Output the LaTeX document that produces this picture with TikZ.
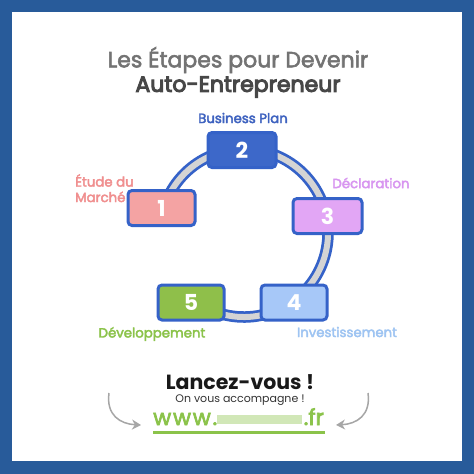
\documentclass[tikz,border=0pt]{standalone}
\usepackage{fontspec}
\setmainfont{Poppins}
\usetikzlibrary{arrows.meta,calc}
\definecolor{frameblue}{HTML}{285B9A}
\definecolor{ringblue}{HTML}{3562C8}
\definecolor{ringgray}{HTML}{D4D4D4}
\definecolor{cOne}{HTML}{F4A3A3}
\definecolor{cTwo}{HTML}{3D68C9}
\definecolor{cThree}{HTML}{E2A6F5}
\definecolor{cFour}{HTML}{A7C8F8}
\definecolor{cFive}{HTML}{8FBF4A}
\definecolor{tOne}{HTML}{F08F8F}
\definecolor{tTwo}{HTML}{3F63C0}
\definecolor{tThree}{HTML}{D896F0}
\definecolor{tFour}{HTML}{9EC4F2}
\definecolor{tFive}{HTML}{8BC34A}
\definecolor{urlgreen}{HTML}{8BC34A}
\newcommand{\medw}{\addfontfeature{FakeBold=3}}
\begin{document}
\begin{tikzpicture}[x=1pt,y=-1pt,
  stepbox/.style={draw=ringblue,line width=3pt,rounded corners=4pt,minimum width=66pt,minimum height=35pt,inner sep=0pt,text=white,font=\fontsize{22}{22}\selectfont\bfseries},
  steplabel/.style={font=\fontsize{13.3}{16}\selectfont\medw,inner sep=0pt},
  curvarrow/.style={draw=black!35,line width=1.5pt,-{Stealth[length=9pt,width=10pt]}}]
\useasboundingbox (0,0) rectangle (474,474);
\fill[frameblue] (0,0) rectangle (474,474);
\fill[white] (12,12) rectangle (462,461);
% title
\node[font=\fontsize{22}{24}\selectfont\addfontfeature{FakeBold=2.5},text=black!55] (t1) at (238,60) {Les Étapes pour Devenir};
\node[font=\fontsize{22}{24}\selectfont\addfontfeature{FakeBold=4.5},text=black!72] (t2) at (238,87) {Auto-Entrepreneur};
% ring
\coordinate (c) at (244,233);
\draw[ringblue,line width=11.5pt] ($(c)+(-155:84)$) arc[start angle=-155,end angle=115,radius=84];
\draw[ringgray,line width=6pt] ($(c)+(-155:84)$) arc[start angle=-155,end angle=115,radius=84];
% boxes
\node[stepbox,fill=cOne,minimum width=67pt] (b1) at (161.5,208) {1};
\node[stepbox,fill=cTwo,minimum width=68pt] (b2) at (242,150) {2};
\node[stepbox,fill=cThree,minimum width=69pt] (b3) at (327.5,216) {3};
\node[stepbox,fill=cFour] (b4) at (294,302.5) {4};
\node[stepbox,fill=cFive] (b5) at (191,302.5) {5};
% labels
\node[steplabel,text=tTwo] (l2) at (243,118) {Business Plan};
\node[steplabel,text=tOne,align=left,anchor=north west,font=\fontsize{13.3}{15.5}\selectfont\medw] (l1) at (75,174) {Étude du\\Marché};
\node[steplabel,text=tThree] (l3) at (371,183) {Déclaration};
\node[steplabel,text=tFour] (l4) at (347,332) {Investissement};
\node[steplabel,text=tFive] (l5) at (152,334) {Développement};
% bottom
\node[font=\fontsize{20.5}{21}\selectfont\bfseries,text=black!90,inner sep=0pt] (lv) at (240,382) {Lancez-vous !};
\node[font=\fontsize{11}{11}\selectfont,text=black!80,inner sep=0pt] (ov) at (240,400) {On vous accompagne !};
\node[font=\fontsize{22}{22}\selectfont\addfontfeature{FakeBold=3,LetterSpace=8},text=urlgreen,anchor=base west,inner sep=0pt] (www) at (153,425) {www.};
\fill[urlgreen!40] (217,415) rectangle (302,424);
\node[font=\fontsize{22}{22}\selectfont\addfontfeature{FakeBold=3},text=urlgreen,anchor=base east,inner sep=0pt] (fr) at (324,425) {.fr};
\coordinate (ulA) at (153,432);
\coordinate (ulB) at (325,432);
\draw[urlgreen,line width=3pt] (ulA) -- (ulB);
\coordinate (la) at (109,393);
\coordinate (lb) at (141,425);
\coordinate (ra) at (368,393);
\coordinate (rb) at (336,425);
\draw[curvarrow] (la) .. controls (106,415) and (120,424) .. (lb);
\draw[curvarrow] (ra) .. controls (371,415) and (357,424) .. (rb);
\end{tikzpicture}
\end{document}
